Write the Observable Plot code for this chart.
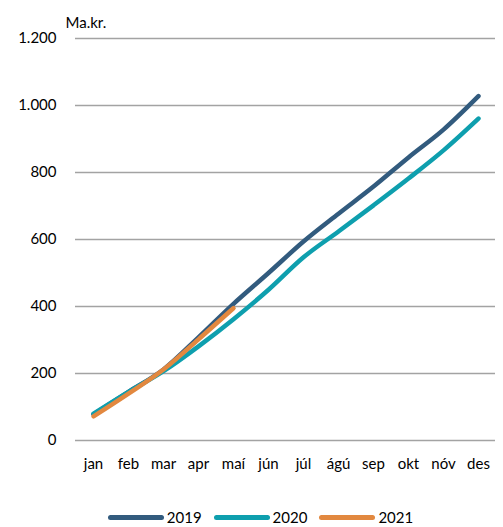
<!DOCTYPE html>
<html>
<head>
<meta charset="utf-8">
<script src="https://cdn.jsdelivr.net/npm/d3@7"></script>
<script src="https://cdn.jsdelivr.net/npm/@observablehq/plot@0.6"></script>
<style>
  body { margin: 0; background: #fff; font-family: Lato, "Open Sans", sans-serif; }
  #wrap { width: 503px; height: 527px; position: relative; }
  .legend { display: flex; justify-content: center; align-items: center; font-size: 15px; color: #000; height: 30px; margin-top: 12px; margin-left: 18px; }
  .item { display: flex; align-items: center; margin: 0 6px; }
  .sw { width: 56px; height: 5px; border-radius: 3px; margin-right: 3px; }
</style>
</head>
<body>
<div id="wrap"></div>
<script>
const months = ["jan","feb","mar","apr","maí","jún","júl","ágú","sep","okt","nóv","des"];
const years = ["2019","2020","2021"];
const colors = ["#325b7e","#0e9fae","#e2883f"];
const v2019 = [78, 145, 212, 308, 408, 500, 594, 677, 758, 845, 928, 1028];
const v2020 = [80, 145, 207, 281, 362, 450, 547, 624, 702, 782, 866, 961];
const v2021 = [72, 140, 212, 302, 395];
const yTicks = [0, 200, 400, 600, 800, 1000, 1200];
const yUnit = "Ma.kr.";

const series = [v2019, v2020, v2021];
const data = [];
series.forEach((vals, i) => vals.forEach((v, j) => data.push({month: months[j], year: years[i], value: v})));

const fmt = d => d3.format(",")(d).replace(/,/g, ".");

const chart = Plot.plot({
  width: 503,
  height: 490,
  marginLeft: 75,
  marginRight: 8,
  marginTop: 38,
  marginBottom: 50,
  style: {fontFamily: "Lato, 'Open Sans', sans-serif", fontSize: "15px", color: "#000", background: "#fff"},
  x: {type: "point", domain: months, padding: 0.5, label: null, tickSize: 0, tickPadding: 18},
  y: {domain: [0, 1200], ticks: yTicks, tickFormat: fmt, label: null, tickSize: 0, tickPadding: 19},
  color: {domain: years, range: colors},
  marks: [
    Plot.ruleY(yTicks, {stroke: "#a3a3a3", strokeWidth: 1.6}),
    Plot.line(data, {x: "month", y: "value", z: "year", stroke: "year", strokeWidth: 4.5, strokeLinecap: "round", strokeLinejoin: "round", curve: "monotone-x"}),
    Plot.text([yUnit], {text: d => d, frameAnchor: "top-left", dx: -10, dy: -21, textAnchor: "start", fontSize: 15})
  ]
});
document.getElementById("wrap").appendChild(chart);

const legend = document.createElement("div");
legend.className = "legend";
years.forEach((y, i) => {
  const it = document.createElement("div");
  it.className = "item";
  const sw = document.createElement("div");
  sw.className = "sw";
  sw.style.background = colors[i];
  const t = document.createElement("span");
  t.textContent = y;
  it.appendChild(sw); it.appendChild(t);
  legend.appendChild(it);
});
document.getElementById("wrap").appendChild(legend);
</script>
</body>
</html>
